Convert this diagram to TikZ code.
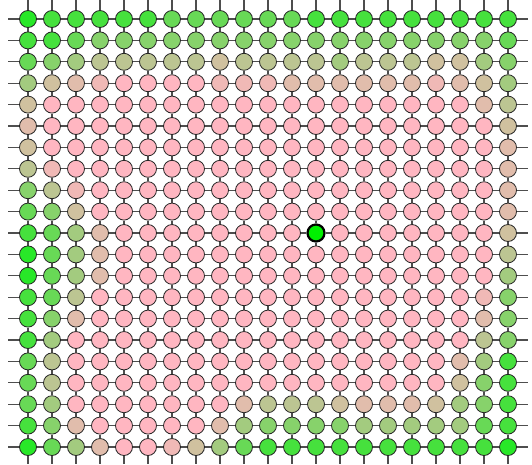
\documentclass[tikz,border=0pt]{standalone}
\usepackage{xcolor}
\usepackage{tikz}
\usetikzlibrary{backgrounds}
\definecolor{greenhot}{RGB}{40,232,40}
\definecolor{pinkcold}{RGB}{255,182,193}
\definecolor{greenseed}{RGB}{0,240,0}
\definecolor{edgegray}{RGB}{78,78,78}
% site levels, green (0) to pink (9)
\colorlet{lv0}{pinkcold!0!greenhot}
\colorlet{lv1}{pinkcold!14!greenhot}
\colorlet{lv2}{pinkcold!30!greenhot}
\colorlet{lv3}{pinkcold!44!greenhot}
\colorlet{lv4}{pinkcold!57!greenhot}
\colorlet{lv5}{pinkcold!69!greenhot}
\colorlet{lv6}{pinkcold!78!greenhot}
\colorlet{lv7}{pinkcold!86!greenhot}
\colorlet{lv8}{pinkcold!93!greenhot}
\colorlet{lv9}{pinkcold}
\colorlet{lvs}{greenseed}

\begin{document}
\begin{tikzpicture}[
      x=24pt, y=21.4pt,
      site/.style={
        circle,
        draw=black!85,
        line width=0.8pt,
        minimum size=17pt,
        inner sep=0pt
      },
      seedsite/.style={site, line width=2.2pt, draw=black},
      link/.style={draw=edgegray, line width=1.3pt},
  ]
  \useasboundingbox (-28pt,19pt) rectangle (504pt,-445pt);

        % sites, one list per row, top to bottom
        \foreach \vals [count=\r from 0] in {%
            {0,1,1,1,1,1,2,2,2,2,2,2,1,1,1,1,1,1,1,1,1},%
            {1,1,2,3,3,3,3,3,3,3,3,3,3,3,3,3,3,3,3,3,2},%
            {2,3,4,5,5,5,5,5,6,5,5,5,5,4,5,5,5,6,6,4,3},%
            {4,6,7,8,9,9,9,9,8,8,8,7,7,7,7,7,7,8,7,6,4},%
            {6,9,9,9,9,9,9,9,9,9,9,9,9,9,9,9,9,9,9,7,5},%
            {7,9,9,9,9,9,9,9,9,9,9,9,9,9,9,9,9,9,9,9,6},%
            {6,9,9,9,9,9,9,9,9,9,9,9,9,9,9,9,9,9,9,9,7},%
            {5,8,9,9,9,9,9,9,9,9,9,9,9,9,9,9,9,9,9,9,7},%
            {3,5,8,9,9,9,9,9,9,9,9,9,9,9,9,9,9,9,9,9,7},%
            {2,3,6,9,9,9,9,9,9,9,9,9,9,9,9,9,9,9,9,9,7},%
            {1,2,4,7,9,9,9,9,9,9,9,9,s,9,9,9,9,9,9,9,6},%
            {0,2,4,7,9,9,9,9,9,9,9,9,9,9,9,9,9,9,9,9,5},%
            {0,2,4,7,9,9,9,9,9,9,9,9,9,9,9,9,9,9,9,9,4},%
            {1,2,5,9,9,9,9,9,9,9,9,9,9,9,9,9,9,9,9,8,3},%
            {1,3,7,9,9,9,9,9,9,9,9,9,9,9,9,9,9,9,9,7,3},%
            {1,4,9,9,9,9,9,9,9,9,9,9,9,9,9,9,9,9,9,5,3},%
            {2,5,9,9,9,9,9,9,9,9,9,9,9,9,9,9,9,9,7,4,1},%
            {2,5,9,9,9,9,9,9,9,9,9,9,9,9,9,9,9,9,6,3,1},%
            {2,4,9,9,9,9,9,9,9,7,5,5,5,6,7,7,7,6,4,3,1},%
            {1,3,7,9,9,9,9,9,7,4,3,3,3,3,4,4,4,4,4,2,1},%
            {0,2,4,7,9,9,8,6,4,2,1,1,1,1,1,1,1,1,1,1,0}}{%
          \foreach \lv [count=\c from 0] in \vals {
            \if s\lv
              \node[seedsite, fill=lvs] (n\r-\c) at (\c,-\r) {};
            \else
              \node[site, fill=lv\lv] (n\r-\c) at (\c,-\r) {};
            \fi
          }
        }

        \begin{scope}[on background layer]
          % horizontal links, with open ends left and right
          \foreach \r in {0,...,20} {
            \coordinate (wl\r) at (-0.83,-\r);
            \coordinate (wr\r) at (20.83,-\r);
            \draw[link] (wl\r) -- (n\r-0);
            \draw[link] (n\r-20) -- (wr\r);
            \foreach \c [evaluate=\c as \cn using int(\c+1)] in {0,...,19}
              \draw[link] (n\r-\c) -- (n\r-\cn);
          }
          % vertical links, with open ends top and bottom
          \foreach \c in {0,...,20} {
            \coordinate (wt\c) at (\c,0.88);
            \coordinate (wb\c) at (\c,-20.79);
            \draw[link] (wt\c) -- (n0-\c);
            \draw[link] (n20-\c) -- (wb\c);
            \foreach \r [evaluate=\r as \rn using int(\r+1)] in {0,...,19}
              \draw[link] (n\r-\c) -- (n\rn-\c);
          }
        \end{scope}
  \end{tikzpicture}
\end{document}
